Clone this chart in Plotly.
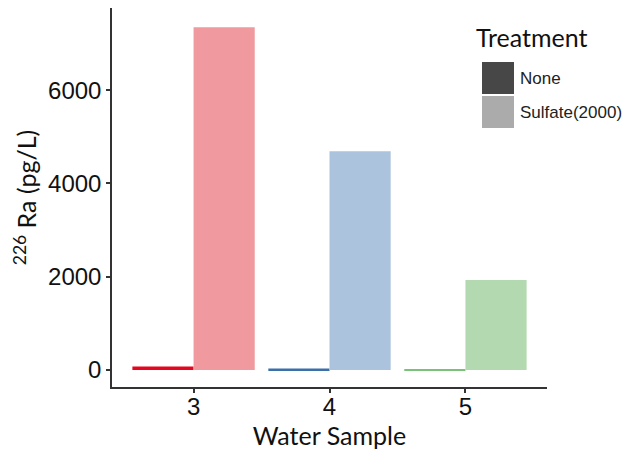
import plotly.graph_objects as go

samples = [3, 4, 5]
none_vals = [75, 30, 20]
sulfate_vals = [7350, 4690, 1930]
none_colors = ["#E3061E", "#3B6FA8", "#79C277"]
sulfate_colors = ["#F0999F", "#ABC3DD", "#B3D9B0"]
legend_labels = ["None", "Sulfate(2000)"]
legend_colors = ["#474747", "#ABABAB"]

fig = go.Figure()
fig.add_bar(x=samples, y=none_vals, name=legend_labels[0],
            marker=dict(color=none_colors, line=dict(width=0)), showlegend=False)
fig.add_bar(x=samples, y=sulfate_vals, name=legend_labels[1],
            marker=dict(color=sulfate_colors, line=dict(width=0)), showlegend=False)

L, R, T, B = 112, 84, 8, 69
W, H = 631, 456
pw, ph = W - L - R, H - T - B
def px(x):
    return (x - L) / pw
def py(y):
    return (H - B - y) / ph

shapes = []
annotations = []
# legend
annotations.append(dict(x=px(474), y=py(37), xref="paper", yref="paper", text="Treatment",
                        showarrow=False, xanchor="left", yanchor="middle",
                        font=dict(family="Lato", size=25, color="#111")))
for i, (lab, col) in enumerate(zip(legend_labels, legend_colors)):
    top = 62 + i * 34
    shapes.append(dict(type="rect", xref="paper", yref="paper",
                       x0=px(482), x1=px(514), y0=py(top + 32), y1=py(top),
                       fillcolor=col, line=dict(width=0)))
    annotations.append(dict(x=px(518), y=py(top + 16), xref="paper", yref="paper", text=lab,
                            showarrow=False, xanchor="left", yanchor="middle",
                            font=dict(family="Liberation Sans", size=17, color="#222")))

fig.update_layout(
    width=W, height=H,
    margin=dict(l=L, r=R, t=T, b=B),
    paper_bgcolor="white", plot_bgcolor="white",
    barmode="group", bargap=0.1, bargroupgap=0,
    shapes=shapes, annotations=annotations,
    xaxis=dict(range=[2.4, 5.6], tickvals=samples, ticktext=[str(s) for s in samples],
               showgrid=False, zeroline=False, showline=True, linecolor="#333", linewidth=1.5,
               ticks="outside", ticklen=4, tickcolor="#333", tickwidth=1.5, ticklabelstandoff=-7,
               tickfont=dict(family="Liberation Sans", size=24, color="#111"),
               title=dict(text="Water Sample", font=dict(family="Lato", size=25, color="#111"), standoff=6)),
    yaxis=dict(range=[-364, 7760], tickvals=[0, 2000, 4000, 6000],
               showgrid=False, zeroline=False, showline=True, linecolor="#333", linewidth=1.5,
               ticks="outside", ticklen=4, tickcolor="#333", tickwidth=1.5,
               tickfont=dict(family="Liberation Sans", size=24, color="#111"),
               title=dict(text="<sup>226</sup> Ra (pg/L)", font=dict(family="Lato", size=25, color="#111"), standoff=4)),
)

fig.write_html("out.html")
